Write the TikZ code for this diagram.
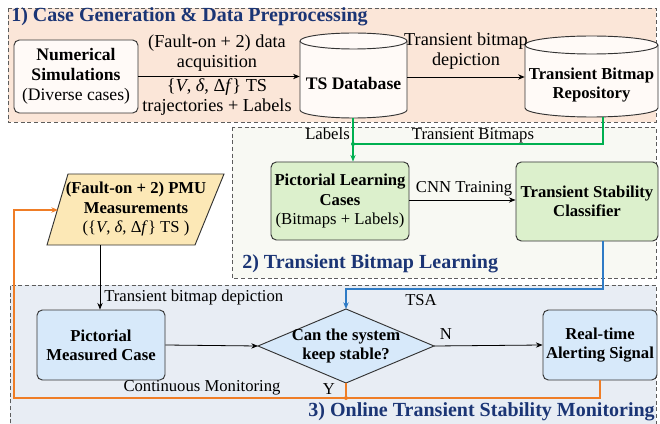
\documentclass[tikz,border=0pt]{standalone}
\usepackage{fontspec}
\setmainfont{Liberation Serif}
\usetikzlibrary{arrows.meta}
\definecolor{secone}{HTML}{FBE6D8}
\definecolor{sectwo}{HTML}{F8F9F3}
\definecolor{secthree}{HTML}{E8EDF4}
\definecolor{titleblue}{HTML}{1B3575}
\definecolor{greenbox}{HTML}{DCF0CC}
\definecolor{bluebox}{HTML}{D7E9FA}
\definecolor{pmufill}{HTML}{FCE8B6}
\definecolor{paper}{HTML}{FFFAF7}
\definecolor{glink}{HTML}{00B050}
\definecolor{blink}{HTML}{2E7BC6}
\definecolor{olink}{HTML}{EF7D26}
\definecolor{edge}{HTML}{333333}
% variable set {V, delta, Delta f} in the text face
\newcommand{\varset}{\{\textit{V}, \textit{δ}, Δ\textit{f}\}}
\tikzset{
  x=0.75pt, y=-0.75pt,
  every node/.style={font=\fontsize{12.5}{14.5}\selectfont, align=center, inner sep=0pt},
  big/.style={font=\fontsize{13.2}{15}\selectfont},
  bigger/.style={font=\fontsize{13.7}{15.5}\selectfont},
  section/.style={draw=edge!80, dashed, dash pattern=on 3pt off 2pt, line width=0.6pt},
  stage/.style={font=\fontsize{15}{17}\selectfont\bfseries, text=titleblue},
  procbox/.style={draw=edge, rounded corners=4pt, line width=0.7pt},
  flow/.style={-{Stealth[length=5pt,width=4pt]}, line width=0.6pt},
  lbl/.style={font=\fontsize{12.5}{14}\selectfont},
  joint/.style={circle, fill, inner sep=0pt, minimum size=3pt},
}
\begin{document}
\begin{tikzpicture}
\useasboundingbox (0,0) rectangle (660,424);

% stage backgrounds
\filldraw[section, fill=secone] (8,8) rectangle (656,122);
\filldraw[section, fill=sectwo] (232,127) rectangle (656,278);
\fill[secthree] (10,285) rectangle (656,430);
\draw[section] (10,430) -- (10,285) -- (656,285) -- (656,430);

\node[stage, anchor=west] (t1) at (11,17) {1) Case Generation \& Data Preprocessing};
\node[stage, anchor=west] (t2) at (242,264) {2) Transient Bitmap Learning};
\node[stage, anchor=east] (t3) at (655,412) {3) Online Transient Stability Monitoring};

% stage 1
\node[procbox, big, fill=paper, minimum width=93pt, minimum height=54.75pt] (sim) at (76,76.5)
  {\textbf{Numerical}\\\textbf{Simulations}\\(Diverse cases)};

% database cylinders
\filldraw[draw=edge, fill=paper, line width=0.7pt]
  (300,110) arc[start angle=180, end angle=360, x radius=40.125pt, y radius=6pt]
  -- (407,41) arc[start angle=0, end angle=180, x radius=40.125pt, y radius=6pt] -- cycle;
\draw[edge, line width=0.7pt] (300,41) arc[start angle=180, end angle=360, x radius=40.125pt, y radius=6pt];
\node[minimum width=80.25pt, minimum height=63.75pt] (db) at (353.5,75.5) {};
\node[big] at (353.5,83) {\textbf{TS Database}};

\filldraw[draw=edge, fill=paper, line width=0.7pt]
  (525,108) arc[start angle=180, end angle=360, x radius=49.875pt, y radius=6.75pt]
  -- (658,45) arc[start angle=0, end angle=180, x radius=49.875pt, y radius=6.75pt] -- cycle;
\draw[edge, line width=0.7pt] (525,45) arc[start angle=180, end angle=360, x radius=49.875pt, y radius=6.75pt];
\node[minimum width=99.75pt, minimum height=60.75pt] (repo) at (591.5,76.5) {};
\node at (591.5,85) {\textbf{Transient Bitmap}\\\textbf{Repository}};

\draw[flow] (sim.east) -- (db.west |- sim.east);
\node[bigger] (acq) at (217,53) {(Fault-on + 2) data\\acquisition};
\node[bigger] (traj) at (217,97) {\varset{} TS\\trajectories + Labels};

\draw[flow] (db.east |- 0,77) -- (repo.west |- 0,77);
\node[bigger] (dep) at (466,51) {Transient bitmap\\depiction};

% stage 2
\node[procbox, fill=greenbox, minimum width=103.5pt, minimum height=58.5pt] (plc) at (340,201)
  {\textbf{Pictorial Learning}\\\textbf{Cases}\\(Bitmaps + Labels)};
\node[procbox, fill=greenbox, minimum width=106.5pt, minimum height=59.25pt] (tsc) at (587,201.5)
  {\textbf{Transient Stability}\\\textbf{Classifier}};

\coordinate (gj) at (353,144);
\draw[glink, line width=1pt] (repo.south -| 603,0) |- (gj);
\draw[glink, line width=1pt, -{Stealth[length=5pt,width=4pt]}] (db.south -| gj) -- (gj) -- (gj |- plc.north);
\node[joint, glink] at (gj) {};
\node[lbl, anchor=east] (lab) at (350,134) {Labels};
\node[lbl] (tbm) at (473,136) {Transient Bitmaps};

\draw[flow] (plc.east |- 0,200) -- (tsc.west |- 0,200);
\node (cnn) at (464,189) {CNN Training};

% PMU measurements
\filldraw[draw=edge, fill=pmufill, line width=0.7pt] (68,174) -- (224,174) -- (195,245) -- (47,245) -- cycle;
\node[minimum width=133pt, minimum height=53pt] (pmu) at (135.5,209.5) {};
\node at (136,209) {\textbf{(Fault-on + 2) PMU}\\\textbf{Measurements}\\(\varset{} TS )};
\coordinate (pin) at (58,210);

% stage 3
\node[procbox, fill=bluebox, minimum width=96pt, minimum height=52.5pt] (pmc) at (101,345)
  {\textbf{Pictorial}\\\textbf{Measured Case}};
\node[procbox, fill=bluebox, minimum width=85.5pt, minimum height=52.5pt] (rta) at (600,345)
  {\textbf{Real-time}\\\textbf{Alerting Signal}};

\coordinate (dl) at (258,346);
\coordinate (dr) at (434,346);
\coordinate (dt) at (346,309);
\coordinate (db3) at (346,383);
\filldraw[draw=edge, fill=bluebox, line width=0.7pt] (dl) -- (dt) -- (dr) -- (db3) -- cycle;
\node (dia) at (346,346) {\textbf{Can the system}\\\textbf{keep stable?}};

\draw[flow] (pmu.south -| 100,0) -- (pmc.north -| 100,0);
\node[lbl, anchor=west] (tbd) at (104,297) {Transient bitmap depiction};

\draw[flow] (pmc.east) -- (dl);
\draw[flow] (dr) -- (rta.west);
\node (n) at (446,334) {N};

\coordinate (bj) at (346,289);
\draw[blink, line width=1pt, -{Stealth[length=5pt,width=4pt]}] (tsc.south -| 603,0) |- (bj) -- (dt);
\node[lbl] (tsa) at (421,300) {TSA};

\coordinate (oj) at (346,398);
\draw[olink, line width=1pt, -{Stealth[length=5pt,width=4pt]}] (rta.south) |- (14,398) |- (pin);
\draw[olink, line width=1pt] (db3) -- (oj);
\node[joint, olink] at (oj) {};
\node (y) at (329,389) {Y};
\node[lbl] (cm) at (202,388) {Continuous Monitoring};
\end{tikzpicture}
\end{document}
